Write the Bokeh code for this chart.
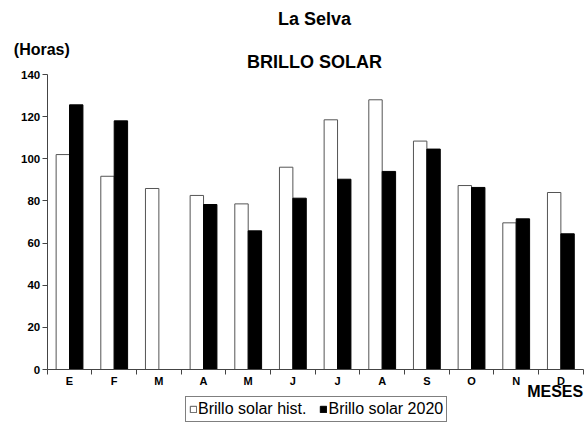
import numpy as np
from bokeh.plotting import figure
from bokeh.models import (Range1d, FixedTicker, Label, Legend, LegendItem, ColumnDataSource)
from bokeh.embed import file_html
from bokeh.resources import INLINE

# ---- data ----
months = ["E", "F", "M", "A", "M", "J", "J", "A", "S", "O", "N", "D"]
hist = [102, 91.7, 85.9, 82.6, 78.6, 96, 118.5, 128, 108.4, 87.3, 69.6, 84]
solar_2020 = [125.6, 118, None, 78.3, 65.8, 81.3, 90.3, 94, 104.6, 86.4, 71.5, 64.4]
y_ticks = [0, 20, 40, 60, 80, 100, 120, 140]
series_names = ["Brillo solar hist.", "Brillo solar 2020"]

FONT = "Liberation Sans"
W, H = 586, 423
# pixel layout of the data area inside the canvas
X0_PX, X1_PX = 46.7, 582.7
Y0_PX, Y1_PX = 369.0, 74.0   # y=0 and y=140
n = len(months)
ymax = y_ticks[-1]
xs_per_px = n / (X1_PX - X0_PX)
ys_per_px = ymax / (Y0_PX - Y1_PX)

idx = np.arange(n)
src = ColumnDataSource(dict(
    xh=idx + 0.35,
    xs=idx + 0.65,
    hist=hist,
    s20=[np.nan if v is None else v for v in solar_2020],
))

p = figure(width=W, height=H, output_backend="svg", toolbar_location=None,
           x_range=Range1d(-X0_PX * xs_per_px, n + (W - X1_PX) * xs_per_px),
           y_range=Range1d(-(H - Y0_PX) * ys_per_px, ymax + Y1_PX * ys_per_px),
           min_border=0)
p.outline_line_color = None
p.xgrid.visible = False
p.ygrid.visible = False
p.background_fill_color = "white"

r_hist = p.vbar(x="xh", top="hist", width=0.3, bottom=0, source=src,
                fill_color="white", line_color="#555555", line_width=1)
r_2020 = p.vbar(x="xs", top="s20", width=0.3, bottom=0, source=src,
                fill_color="black", line_color="black", line_width=1)

# y axis
ya = p.yaxis[0]
ya.fixed_location = 0
ya.bounds = (0, ymax)
ya.ticker = FixedTicker(ticks=y_ticks)
ya.major_tick_out = 5
ya.major_tick_in = 0
ya.minor_tick_line_color = None
ya.major_label_standoff = 2
ya.major_label_text_font = FONT
ya.major_label_text_font_style = "bold"
ya.major_label_text_font_size = "11.5px"
ya.major_label_text_color = "black"
ya.axis_line_color = "#444444"
ya.major_tick_line_color = "#444444"

# x axis: labels at centres, ticks at boundaries
xa = p.xaxis[0]
xa.fixed_location = 0
xa.bounds = (0, n)
centers = [float(i) + 0.5 for i in idx]
xa.ticker = FixedTicker(ticks=centers, minor_ticks=[float(i) for i in range(n + 1)])
xa.major_label_overrides = {c: m for c, m in zip(centers, months)}
xa.major_tick_line_color = None
xa.major_tick_out = 0
xa.major_tick_in = 0
xa.minor_tick_out = 5
xa.minor_tick_in = 0
xa.minor_tick_line_color = "#444444"
xa.axis_line_color = "#444444"
xa.major_label_standoff = 0
xa.major_label_text_font = FONT
xa.major_label_text_font_style = "bold"
xa.major_label_text_font_size = "11px"
xa.major_label_text_color = "black"

# screen units: origin at bottom-left of the frame (= whole canvas here)
def lab(x, y_from_top, text, size, align="center", style="bold"):
    p.add_layout(Label(x=x, y=H - y_from_top, x_units="screen", y_units="screen",
                       text=text, text_font=FONT, text_font_style=style,
                       text_font_size=size, text_align=align, text_baseline="middle",
                       text_color="black"))

lab(314, 18.5, "La Selva", "18px")
lab(314, 61.7, "BRILLO SOLAR", "18px")
lab(13.3, 49.3, "(Horas)", "16px", align="left")
lab(582.7, 391.3, "MESES", "16px", align="right")

legend = Legend(items=[LegendItem(label=series_names[0], renderers=[r_hist]),
                       LegendItem(label=series_names[1], renderers=[r_2020])],
                orientation="horizontal", location=(185, 1),
                glyph_width=8, glyph_height=8, label_standoff=1, spacing=13,
                padding=3, margin=0, label_height=14,
                label_text_font=FONT, label_text_font_size="16px",
                label_text_color="black", label_text_baseline="middle",
                border_line_color="black", border_line_width=1,
                background_fill_color="white", background_fill_alpha=1)
p.add_layout(legend, "center")

open("out.html", "w").write(file_html(p, INLINE))
